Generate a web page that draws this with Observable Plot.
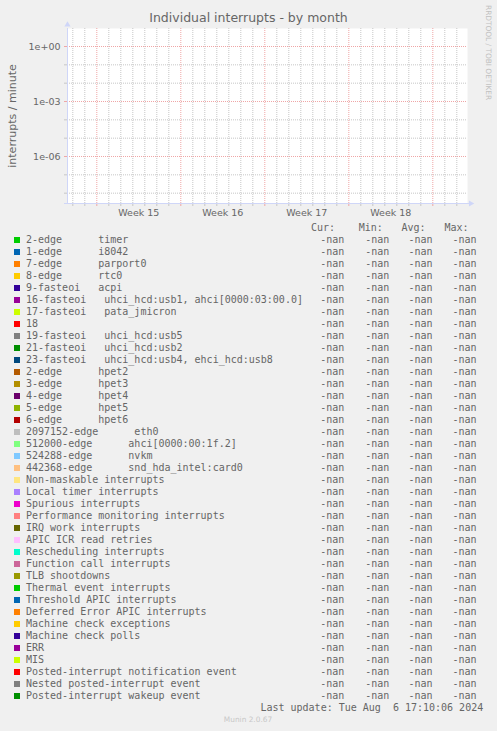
<!DOCTYPE html>
<html><head><meta charset="utf-8">
<script src="https://cdn.jsdelivr.net/npm/d3@7"></script>
<script src="https://cdn.jsdelivr.net/npm/@observablehq/plot@0.6"></script>
<style>
html,body{margin:0;padding:0;background:#f0f0f0;}
body{width:497px;height:731px;position:relative;overflow:hidden;font-family:"DejaVu Sans",sans-serif;color:#666;}
#chart{position:absolute;left:0;top:0;}
.t{position:absolute;white-space:pre;}
.sw{position:absolute;width:6px;height:6px;}
</style></head><body>
<div id="chart"></div>
<div id="legend"></div>
<script>
const title = "Individual interrupts - by month";
const yLabel = "interrupts / minute";
const weekLabels = ["Week 15", "Week 16", "Week 17", "Week 18"];
const weekStarts = ["2024-04-08", "2024-04-15", "2024-04-22", "2024-04-29", "2024-05-06"];
const rangeStart = "2024-04-05T13:24:00Z";
const rangeEnd = "2024-05-08T21:24:00Z";
const yMajorTicks = [1, 1e-3, 1e-6];
const yMinorTicks = [1e-1, 1e-2, 1e-4, 1e-5, 1e-7, 1e-8];
const yDomain = [2.73e-9, 9.6];
const statHeaders = ["Cur:", "Min:", "Avg:", "Max:"];
const lastUpdate = "Last update: Tue Aug  6 17:10:06 2024";
const footer = "Munin 2.0.67";
const watermark = "RRDTOOL / TOBI OETIKER";

const seriesLabels = [
  "2-edge      timer",
  "1-edge      i8042",
  "7-edge      parport0",
  "8-edge      rtc0",
  "9-fasteoi   acpi",
  "16-fasteoi   uhci_hcd:usb1, ahci[0000:03:00.0]",
  "17-fasteoi   pata_jmicron",
  "18",
  "19-fasteoi   uhci_hcd:usb5",
  "21-fasteoi   uhci_hcd:usb2",
  "23-fasteoi   uhci_hcd:usb4, ehci_hcd:usb8",
  "2-edge      hpet2",
  "3-edge      hpet3",
  "4-edge      hpet4",
  "5-edge      hpet5",
  "6-edge      hpet6",
  "2097152-edge      eth0",
  "512000-edge      ahci[0000:00:1f.2]",
  "524288-edge      nvkm",
  "442368-edge      snd_hda_intel:card0",
  "Non-maskable interrupts",
  "Local timer interrupts",
  "Spurious interrupts",
  "Performance monitoring interrupts",
  "IRQ work interrupts",
  "APIC ICR read retries",
  "Rescheduling interrupts",
  "Function call interrupts",
  "TLB shootdowns",
  "Thermal event interrupts",
  "Threshold APIC interrupts",
  "Deferred Error APIC interrupts",
  "Machine check exceptions",
  "Machine check polls",
  "ERR",
  "MIS",
  "Posted-interrupt notification event",
  "Nested posted-interrupt event",
  "Posted-interrupt wakeup event"
];
const seriesColors = [
  "#00CC00", "#0066B3", "#FF8000", "#FFCC00", "#330099", "#990099", "#CCFF00", "#FF0000",
  "#808080", "#008F00", "#00487D", "#B35A00", "#B38F00", "#6B006B", "#8FB300", "#B30000",
  "#BEBEBE", "#80FF80", "#80C9FF", "#FFC080", "#FFE680", "#AA80FF", "#EE00CC", "#FF8080",
  "#666600", "#FFBFFF", "#00FFCC", "#CC6699", "#999900", "#00CC00", "#0066B3", "#FF8000",
  "#FFCC00", "#330099", "#990099", "#CCFF00", "#FF0000", "#808080", "#008F00"
];
const N = "-nan";
const curValues = [N,N,N,N,N,N,N,N,N,N,N,N,N,N,N,N,N,N,N,N,N,N,N,N,N,N,N,N,N,N,N,N,N,N,N,N,N,N,N];
const minValues = [N,N,N,N,N,N,N,N,N,N,N,N,N,N,N,N,N,N,N,N,N,N,N,N,N,N,N,N,N,N,N,N,N,N,N,N,N,N,N];
const avgValues = [N,N,N,N,N,N,N,N,N,N,N,N,N,N,N,N,N,N,N,N,N,N,N,N,N,N,N,N,N,N,N,N,N,N,N,N,N,N,N];
const maxValues = [N,N,N,N,N,N,N,N,N,N,N,N,N,N,N,N,N,N,N,N,N,N,N,N,N,N,N,N,N,N,N,N,N,N,N,N,N,N,N];
// every series is -nan over the whole period: no samples to draw
const seriesSamples = [];

const x0 = new Date(rangeStart), x1 = new Date(rangeEnd);
const weekDates = weekStarts.map(s => new Date(s + "T00:00:00Z"));
const weekCenters = weekLabels.map((_, i) => d3.utcHour.offset(weekDates[i], 84));
const dayDates = d3.utcDay.range(d3.utcDay.ceil(x0), x1).filter(d => d.getUTCDay() !== 1);
const fmtY = d => { const e = Math.round(Math.log10(d)); return "1e" + (e < 0 ? "-" : "+") + String(Math.abs(e)).padStart(2, "0"); };

const GRID = "#c6c6c6", MGRID = "#efa6a6", AXIS = "#CFD6F8";

const chart = Plot.plot({
  width: 497, height: 222,
  marginLeft: 67, marginRight: 30, marginTop: 28, marginBottom: 19,
  style: {background: "transparent", fontFamily: "DejaVu Sans", color: "#666", overflow: "visible"},
  x: {type: "utc", domain: [x0, x1]},
  y: {type: "log", domain: yDomain},
  marks: [
    Plot.frame({fill: "white", stroke: "none"}),
    Plot.ruleX(dayDates, {stroke: GRID, strokeDasharray: "1,1"}),
    Plot.ruleY(yMinorTicks, {stroke: GRID, strokeDasharray: "1,1"}),
    Plot.ruleX(weekDates, {stroke: MGRID, strokeDasharray: "1,1"}),
    Plot.ruleY(yMajorTicks, {stroke: MGRID, strokeDasharray: "1,1"}),
    Plot.line(seriesSamples, {x: "date", y: "value", z: "series", stroke: "color"}),
    Plot.axisX({ticks: dayDates, tickSize: 3, tickFormat: () => "", stroke: GRID}),
    Plot.axisX({ticks: weekDates, tickSize: 3, tickFormat: () => "", stroke: MGRID}),
    Plot.axisX({ticks: weekCenters, tickSize: 0, tickPadding: 6, tickFormat: (d, i) => weekLabels[i], fontSize: 9.5, label: null}),
    Plot.axisY({ticks: yMinorTicks, tickSize: 3, tickFormat: () => "", stroke: GRID, label: null}),
    Plot.axisY({ticks: yMajorTicks, tickSize: 3, tickPadding: 4, tickFormat: fmtY, stroke: MGRID, fontSize: 9.5, label: null}),
    Plot.frame({anchor: "left", stroke: AXIS}),
    Plot.frame({anchor: "bottom", stroke: AXIS, insetLeft: -3, insetRight: -2}),
    Plot.dot([0], {frameAnchor: "top-left", symbol: "triangle", r: 2.3, fill: AXIS, stroke: "none", dy: -3.7}),
    Plot.dot([0], {frameAnchor: "bottom-right", symbol: "triangle", r: 2.3, fill: AXIS, stroke: "none", rotate: 90, dx: 3.2}),
    Plot.text([yLabel], {frameAnchor: "left", textAnchor: "middle", rotate: -90, dx: -55.5, fontSize: 11, fill: "#666"})
  ]
});
document.getElementById("chart").appendChild(chart);

const leg = document.getElementById("legend");
function put(text, opts) {
  const d = document.createElement("div");
  d.className = "t";
  d.textContent = text;
  const size = opts.size;
  d.style.fontSize = size + "px";
  d.style.lineHeight = size + "px";
  d.style.fontFamily = opts.mono ? '"DejaVu Sans Mono", monospace' : '"DejaVu Sans", sans-serif';
  d.style.color = opts.color || "#666";
  d.style.top = (opts.base - 0.846 * size) + "px";
  if (opts.right != null) d.style.right = opts.right + "px";
  else if (opts.center != null) { d.style.left = opts.center + "px"; d.style.transform = "translateX(-50%)"; }
  else d.style.left = opts.left + "px";
  leg.appendChild(d);
  return d;
}
put(title, {size: 12.5, base: 22.5, center: 248.5, color: "#666"});

const headerLeft = [311, 358.8, 401.5, 444.5];
const valueLeft = [320.2, 365.2, 408.5, 452.5];
statHeaders.forEach((h, j) => put(h, {size: 10, mono: true, base: 231, left: headerLeft[j]}));
seriesLabels.forEach((lab, i) => {
  const base = 243.5 + 12 * i;
  const s = document.createElement("div");
  s.className = "sw";
  s.style.left = "14px";
  s.style.top = (base - 6.2) + "px";
  s.style.background = seriesColors[i];
  leg.appendChild(s);
  put(lab, {size: 10, mono: true, base, left: 26});
  [curValues, minValues, avgValues, maxValues].forEach((arr, j) =>
    put(arr[i], {size: 10, mono: true, base, left: valueLeft[j]}));
});
put(lastUpdate, {size: 10, mono: true, base: 711, right: 13.8});
put(footer, {size: 7.4, base: 722.7, center: 248, color: "#c8c8c8"});
const wm = put(watermark, {size: 7.4, base: 0, left: 0, color: "#c0c0c0"});
wm.style.top = "0px";
wm.style.left = "485px";
wm.style.transformOrigin = "0 0";
wm.style.transform = "translate(7.4px, 5px) rotate(90deg)";
</script>
</body></html>
